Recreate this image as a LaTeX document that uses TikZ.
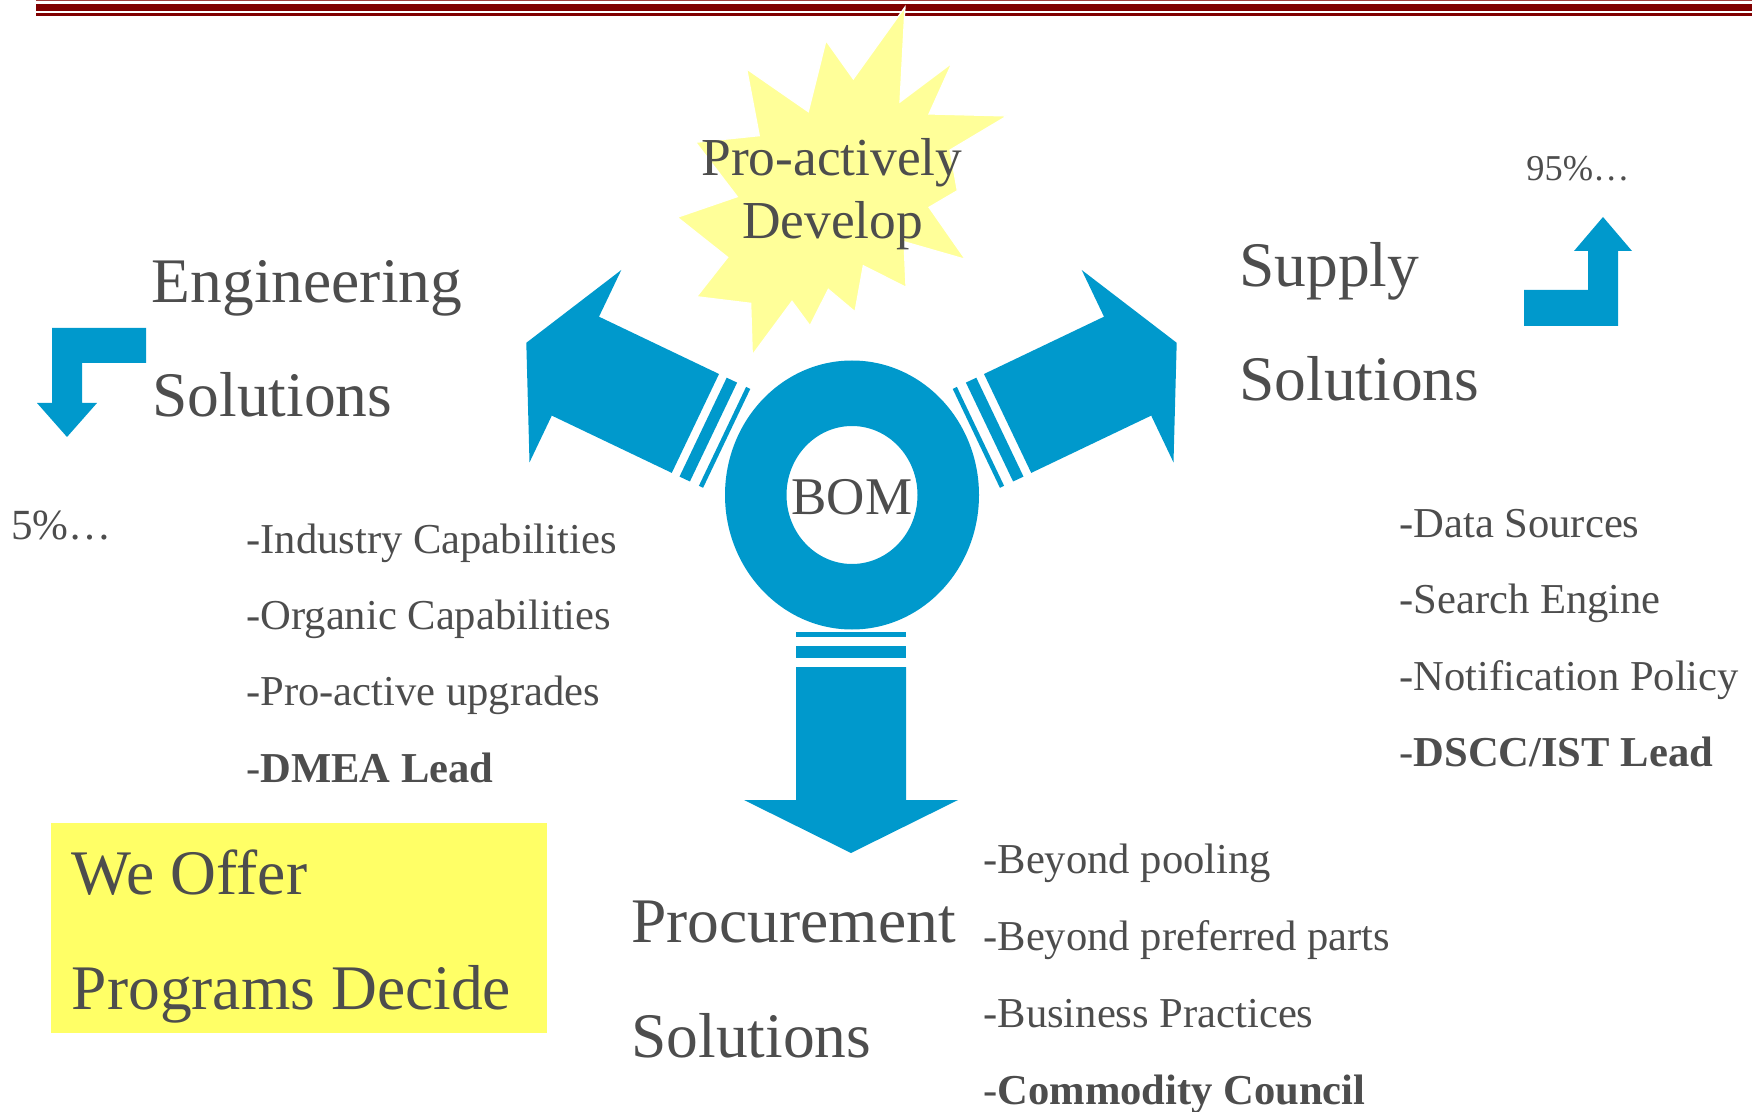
\documentclass[tikz,border=0pt]{standalone}
\usepackage{fontspec}
\setmainfont{Liberation Serif}
\definecolor{bomblue}{RGB}{0,153,204}
\definecolor{txtgray}{RGB}{77,77,77}
\definecolor{rulered}{RGB}{128,0,0}
\definecolor{burst}{RGB}{255,255,153}
\definecolor{notebox}{RGB}{255,255,102}
\begin{document}
\begin{tikzpicture}[x=0.5pt,y=-0.5pt,
  lbl/.style={anchor=base west,inner sep=0pt,text=txtgray},
  big/.style={lbl,font=\fontsize{31.75}{38}\selectfont},
  item/.style={lbl,font=\fontsize{21.3}{26}\selectfont},
  flow/.style={fill=bomblue,draw=none}]
\useasboundingbox (0,0) rectangle (1752,1112);

% header rules
\fill[rulered!75!white] (36,0) rectangle (1752,1.4);
\fill[rulered] (36,4) rectangle (1752,10.7);
\fill[rulered] (36,12.7) rectangle (1752,16);

% starburst
\filldraw[fill=burst,draw=white,line width=0.6pt]
  (905,7) -- (900,102) -- (952,63) -- (929,114) -- (1007,116) -- (950,150)
  -- (957.3,190.7) -- (929,207.3) -- (965.3,259.3) -- (904,241.7)
  -- (906,287.3) -- (863.3,265.7) -- (855,311.7) -- (828.3,289.3)
  -- (810,325.7) -- (792,301.3) -- (752.3,355) -- (750.7,303.3)
  -- (696.7,296.7) -- (727.7,257.3) -- (677.3,217.3) -- (737.3,196.7)
  -- (695.7,142.3) -- (759.3,135.7) -- (746.7,69) -- (808.3,111.7)
  -- (826,40.7) -- (853.3,79) -- cycle;
\node[lbl,anchor=base,font=\fontsize{26.7}{32}\selectfont] (pro) at (832,175.7) {Pro-actively};
\node[lbl,anchor=base,font=\fontsize{26.7}{32}\selectfont] (dev) at (832.5,239) {Develop};

% BOM ring
\fill[bomblue,even odd rule] (852,495) ellipse [x radius=127, y radius=134.5]
  (852,495) ellipse [x radius=65.5, y radius=69];
\node[lbl,anchor=base,font=\fontsize{26.5}{32}\selectfont] (bom) at (852,515) {BOM};

% arrow to the upper left
\fill[flow] (719,374) -- (599,316.7) -- (621.3,270) -- (526.3,342.8)
  -- (529.5,462.4) -- (551.8,415.6) -- (671.8,472.9) -- cycle;
\fill[flow] (726.7,377.7) -- (737.1,382.6) -- (689.9,481.5) -- (679.5,476.6) -- cycle;
\fill[flow] (746.1,386.9) -- (750.3,388.9) -- (703.1,487.8) -- (698.9,485.8) -- cycle;

% arrow to the upper right
\fill[flow] (984,374) -- (1104,316.7) -- (1081.7,270) -- (1176.7,342.8)
  -- (1173.5,462.4) -- (1151.2,415.6) -- (1031.2,472.9) -- cycle;
\fill[flow] (976.3,377.7) -- (965.9,382.6) -- (1013.1,481.5) -- (1023.5,476.6) -- cycle;
\fill[flow] (956.9,386.9) -- (952.7,388.9) -- (999.9,487.8) -- (1004.1,485.8) -- cycle;

% arrow downwards
\fill[flow] (796,667) -- (906,667) -- (906,800) -- (958,800) -- (851,853)
  -- (744,800) -- (796,800) -- cycle;
\fill[flow] (796,646) rectangle (906,658);
\fill[flow] (796,632) rectangle (906,637);

% small bent arrows
\fill[flow] (146,328) -- (52,328) -- (52,403) -- (37,403) -- (67,437)
  -- (97,403) -- (82,403) -- (82,363) -- (146,363) -- cycle;
\fill[flow] (1524,326) -- (1524,290) -- (1588,290) -- (1588,251) -- (1574,251)
  -- (1603,217) -- (1632,251) -- (1618,251) -- (1618,326) -- cycle;
\node[lbl,font=\fontsize{21.5}{26}\selectfont] (low) at (11,540) {5\%…};
\node[lbl,font=\fontsize{18.2}{22}\selectfont] (high) at (1526,181) {95\%…};

% section titles
\node[big] (eng1) at (151.5,303) {Engineering};
\node[big] (eng2) at (152,417) {Solutions};
\node[big] (sup1) at (1239,287) {Supply};
\node[big] (sup2) at (1239,401) {Solutions};
\node[big] (prc1) at (631,942) {Procurement};
\node[big] (prc2) at (631,1057) {Solutions};

% engineering items
\node[item] (e1) at (246,553.5) {-Industry Capabilities};
\node[item] (e2) at (246,629.5) {-Organic Capabilities};
\node[item] (e3) at (246,705.5) {-Pro-active upgrades};
\node[item] (e4) at (246,782) {-\textbf{DMEA Lead}};

% supply items
\node[item] (s1) at (1399,537.3) {-Data Sources};
\node[item] (s2) at (1399,613.3) {-Search Engine};
\node[item] (s3) at (1399,690.7) {-Notification Policy};
\node[item] (s4) at (1399,766.7) {-\textbf{DSCC/IST Lead}};

% procurement items
\node[item] (p1) at (983,873.5) {-Beyond pooling};
\node[item] (p2) at (983,950.5) {-Beyond preferred parts};
\node[item] (p3) at (983,1027.5) {-Business Practices};
\node[item] (p4) at (983,1104) {-\textbf{Commodity Council}};

% offer box
\fill[notebox] (51,823) rectangle (547,1033);
\node[big] (offer) at (71.5,894) {We Offer};
\node[big] (decide) at (71.5,1009) {Programs Decide};
\end{tikzpicture}
\end{document}
